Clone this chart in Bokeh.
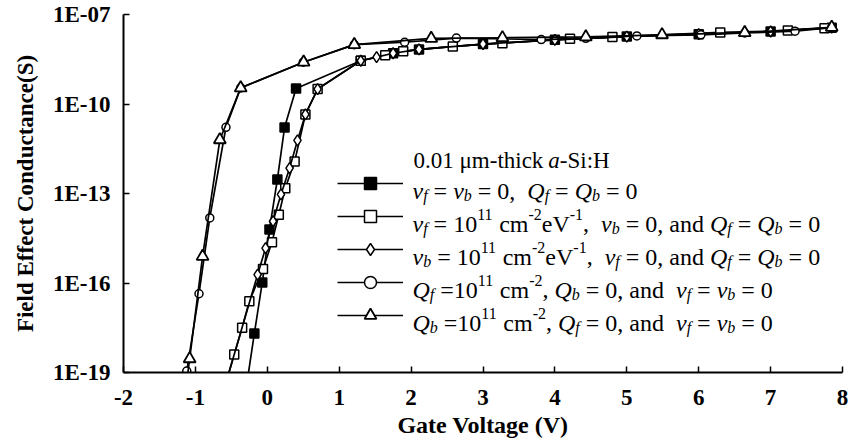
from bokeh.plotting import figure
from bokeh.models import Range1d, FixedTicker, Label, Legend, LegendItem
from bokeh.embed import file_html
from bokeh.resources import INLINE

# ---------------- data ----------------
x_ticks = [-2.0, -1.0, 0.0, 1.0, 2.0, 3.0, 4.0, 5.0, 6.0, 7.0, 8.0]
x_tick_labels = ["-2", "-1", "0", "1", "2", "3", "4", "5", "6", "7", "8"]
y_ticks = [1e-19, 1e-16, 1e-13, 1e-10, 1e-07]
y_tick_labels = ["1E-19", "1E-16", "1E-13", "1E-10", "1E-07"]

# gate voltage (V) and log10 of field-effect conductance (S)
# A: nu_f = nu_b = 0, Q_f = Q_b = 0  (filled squares)
vg_a = [-0.18, -0.07, 0.03, 0.14, 0.24, 0.40, 1.30, 1.75, 2.11, 3.00, 4.00, 5.00, 6.00, 7.00, 7.85]
lg_a = [-17.69, -15.98, -14.21, -12.53, -10.79, -9.48, -8.55, -8.30, -8.17, -7.99, -7.85, -7.74, -7.66, -7.57, -7.44]
tail_vg_a = [-0.28]
tail_lg_a = [-19.3]

# B: nu_f = 1e11 (open squares)
vg_b = [-0.46, -0.35, -0.25, -0.06, 0.065, 0.16, 0.25, 0.38, 0.53, 0.70, 1.30, 1.64, 1.89, 2.58, 3.27, 4.21, 4.80, 6.30, 7.24, 7.75]
lg_b = [-18.40, -17.50, -16.61, -15.53, -14.63, -13.71, -12.82, -11.93, -10.35, -9.50, -8.55, -8.37, -8.23, -8.07, -7.96, -7.81, -7.75, -7.60, -7.54, -7.46]
tail_vg_b = [-0.57]
tail_lg_b = [-19.3]

# C: nu_b = 1e11 (diamonds)
vg_c = [-0.135, -0.024, 0.08, 0.19, 0.31, 0.42, 0.53, 0.70, 1.30, 1.52, 1.75, 2.11, 3.00, 4.00, 5.00, 6.00, 7.00, 7.85]
lg_c = [-15.72, -14.83, -13.93, -13.03, -12.15, -11.22, -10.35, -9.50, -8.55, -8.43, -8.30, -8.17, -7.99, -7.85, -7.74, -7.66, -7.57, -7.44]
tail_vg_c = [-0.57]
tail_lg_c = [-19.3]

# D: Q_f = 1e11 (open circles)
vg_d = [-1.12, -0.95, -0.80, -0.575, -0.37, 0.50, 1.21, 1.91, 2.63, 3.81, 4.43, 5.14, 6.03, 6.64, 7.34, 7.85]
lg_d = [-18.95, -16.36, -13.82, -10.78, -9.46, -8.60, -8.01, -7.93, -7.79, -7.84, -7.80, -7.72, -7.68, -7.62, -7.56, -7.44]
tail_vg_d = [-1.145]
tail_lg_d = [-19.3]

# E: Q_b = 1e11 (open triangles)
vg_e = [-1.08, -0.90, -0.66, -0.37, 0.505, 1.21, 2.28, 3.27, 4.43, 5.49, 6.64, 7.85]
lg_e = [-18.54, -15.11, -11.20, -9.46, -8.60, -8.01, -7.80, -7.78, -7.75, -7.68, -7.61, -7.43]
tail_vg_e = [-1.12]
tail_lg_e = [-19.3]

legend_title = [("0.01 μm-thick ", "r"), ("a", "i"), ("-Si:H", "r")]
legend_rows = [
    [("ν", "i", "n"), ("f", "i", "sub"), (" = ", "r", "n"), ("ν", "i", "n"), ("b", "i", "sub"),
     (" =  0, ", "r", "n"), ("Q", "i", "n"), ("f", "i", "sub"), (" = ", "r", "n"), ("Q", "i", "n"),
     ("b", "i", "sub"), (" =  0", "r", "n")],
    [("ν", "i", "n"), ("f", "i", "sub"), (" = 10", "r", "n"), ("11", "r", "sup"), (" cm", "r", "n"),
     ("-2", "r", "sup"), ("eV", "r", "n"), ("-1", "r", "sup"), (",  ", "r", "n"), ("ν", "i", "n"),
     ("b", "i", "sub"), (" = 0, and ", "r", "n"), ("Q", "i", "n"), ("f", "i", "sub"), (" = ", "r", "n"),
     ("Q", "i", "n"), ("b", "i", "sub"), (" =  0", "r", "n")],
    [("ν", "i", "n"), ("b", "i", "sub"), (" = 10", "r", "n"), ("11", "r", "sup"), (" cm", "r", "n"),
     ("-2", "r", "sup"), ("eV", "r", "n"), ("-1", "r", "sup"), (",  ", "r", "n"), ("ν", "i", "n"),
     ("f", "i", "sub"), (" = 0, and ", "r", "n"), ("Q", "i", "n"), ("f", "i", "sub"), (" = ", "r", "n"),
     ("Q", "i", "n"), ("b", "i", "sub"), (" =  0", "r", "n")],
    [("Q", "i", "n"), ("f", "i", "sub"), (" =10", "r", "n"), ("11", "r", "sup"), (" cm", "r", "n"),
     ("-2", "r", "sup"), (", ", "r", "n"), ("Q", "i", "n"), ("b", "i", "sub"), (" =  0, and ", "r", "n"),
     ("ν", "i", "n"), ("f", "i", "sub"), (" = ", "r", "n"), ("ν", "i", "n"), ("b", "i", "sub"),
     (" =  0", "r", "n")],
    [("Q", "i", "n"), ("b", "i", "sub"), (" =10", "r", "n"), ("11", "r", "sup"), (" cm", "r", "n"),
     ("-2", "r", "sup"), (", ", "r", "n"), ("Q", "i", "n"), ("f", "i", "sub"), (" =  0, and ", "r", "n"),
     ("ν", "i", "n"), ("f", "i", "sub"), (" = ", "r", "n"), ("ν", "i", "n"), ("b", "i", "sub"),
     (" =  0", "r", "n")],
]

# ---------------- figure ----------------
FONT = "Liberation Serif"

p = figure(width=853, height=444, title=None,
           x_range=Range1d(-2, 8), y_range=Range1d(1e-19, 1e-07),
           y_axis_type="log", output_backend="svg", toolbar_location=None,
           min_border_left=123, min_border_right=11, min_border_top=14, min_border_bottom=72)
p.outline_line_color = None
p.xgrid.visible = False
p.ygrid.visible = False
p.background_fill_color = "white"
p.border_fill_color = "white"

for ax in (p.xaxis[0], p.yaxis[0]):
    ax.axis_line_width = 2
    ax.axis_line_color = "black"
    ax.major_tick_in = 6
    ax.major_tick_out = 0
    ax.major_tick_line_width = 1.5
    ax.minor_tick_line_color = None
    ax.major_label_text_font = FONT
    ax.major_label_text_font_style = "bold"
    ax.major_label_text_font_size = "23px"
    ax.major_label_text_color = "black"
    ax.axis_label_text_font = FONT
    ax.axis_label_text_font_style = "bold"
    ax.axis_label_text_font_size = "23px"
    ax.axis_label_text_color = "black"

p.xaxis.major_label_standoff = 17
p.yaxis.major_label_standoff = 13
p.xaxis.ticker = FixedTicker(ticks=x_ticks)
p.xaxis.major_label_overrides = dict(zip(x_ticks, x_tick_labels))
p.yaxis.ticker = FixedTicker(ticks=y_ticks)
p.yaxis.major_label_overrides = dict(zip(y_ticks, y_tick_labels))
p.xaxis.axis_label = "Gate Voltage (V)"
p.yaxis.axis_label = "Field Effect Conductance(S)"
p.xaxis.axis_label_text_font_size = "24px"
p.xaxis.axis_label_standoff = 4
p.yaxis.axis_label_standoff = 12

# (x, logG, tail x, tail logG, marker, fill, size, line width)
series = [
    (vg_a, lg_a, tail_vg_a, tail_lg_a, "square", "black", 9, 1.5),
    (vg_b, lg_b, tail_vg_b, tail_lg_b, "square", "white", 9, 1.5),
    (vg_c, lg_c, tail_vg_c, tail_lg_c, "diamond", "white", 11, 1.5),
    (vg_d, lg_d, tail_vg_d, tail_lg_d, "circle", "white", 8, 1.5),
    (vg_e, lg_e, tail_vg_e, tail_lg_e, "triangle", "white", 12, 1.8),
]

items = []
for vg, lg, tvg, tlg, mk, fill, size, lw in series:
    line_x = tvg + vg
    line_y = [10 ** v for v in (tlg + lg)]
    lr = p.line(line_x, line_y, line_color="black", line_width=1.7)
    sr = p.scatter(vg, [10 ** v for v in lg], marker=mk, size=size,
                   fill_color=fill, line_color="black", line_width=lw)
    items.append(LegendItem(label=" ", renderers=[lr, sr]))

legend = Legend(items=items, location=(214, 42), orientation="vertical",
                glyph_width=66, glyph_height=30, label_height=30, label_width=0,
                label_standoff=0, label_text_font_size="1px", spacing=3,
                padding=0, margin=0, border_line_color=None,
                background_fill_alpha=0)
p.add_layout(legend)

# ---------------- rich text legend labels ----------------
REG = {' ': 250, ',': 250, '.': 250, '-': 333, ':': 278, '=': 564, 'μ': 500, 'ν': 500,
       'a': 444, 'b': 500, 'c': 444, 'd': 500, 'e': 444, 'f': 333, 'h': 500, 'i': 278,
       'k': 500, 'm': 778, 'n': 500, 't': 278, 'H': 722, 'S': 556, 'V': 722, 'Q': 722}
ITA = {'a': 500, 'b': 500, 'f': 278, 'Q': 722, 'ν': 444}


def text_width(txt, style, size):
    w = 0
    for ch in txt:
        if ch.isdigit():
            w += 500
        elif style == "i" and ch in ITA:
            w += ITA[ch]
        else:
            w += REG.get(ch, 500)
    return w * size / 1000.0


FRAME_L, FRAME_B = 123, 372


def place(txt, style, kind, x, base, normal, small):
    size = normal if kind == "n" else small
    dy = 0 if kind == "n" else (-5 if kind == "sub" else 9)
    lead = len(txt) - len(txt.lstrip(" "))
    x += text_width(" " * lead, "r", size)
    core = txt.strip(" ")
    if core:
        p.add_layout(Label(x=x - FRAME_L, y=FRAME_B - base + dy, x_units="screen", y_units="screen",
                           text=core, text_font=FONT, text_font_size=f"{size}px",
                           text_font_style=("italic" if style == "i" else "normal"),
                           text_color="black", text_baseline="alphabetic", text_align="left"))
    return x + text_width(txt.lstrip(" "), style, size)


x = 413
for txt, st in legend_title:
    x = place(txt, st, "n", x, 160, 23, 15)

row_centers = [183, 216, 249, 282, 315]
for row, cy in zip(legend_rows, row_centers):
    x = 412
    for txt, st, kind in row:
        x = place(txt, st, kind, x, cy + 7, 24, 16)

open("out.html", "w").write(file_html(p, INLINE))
